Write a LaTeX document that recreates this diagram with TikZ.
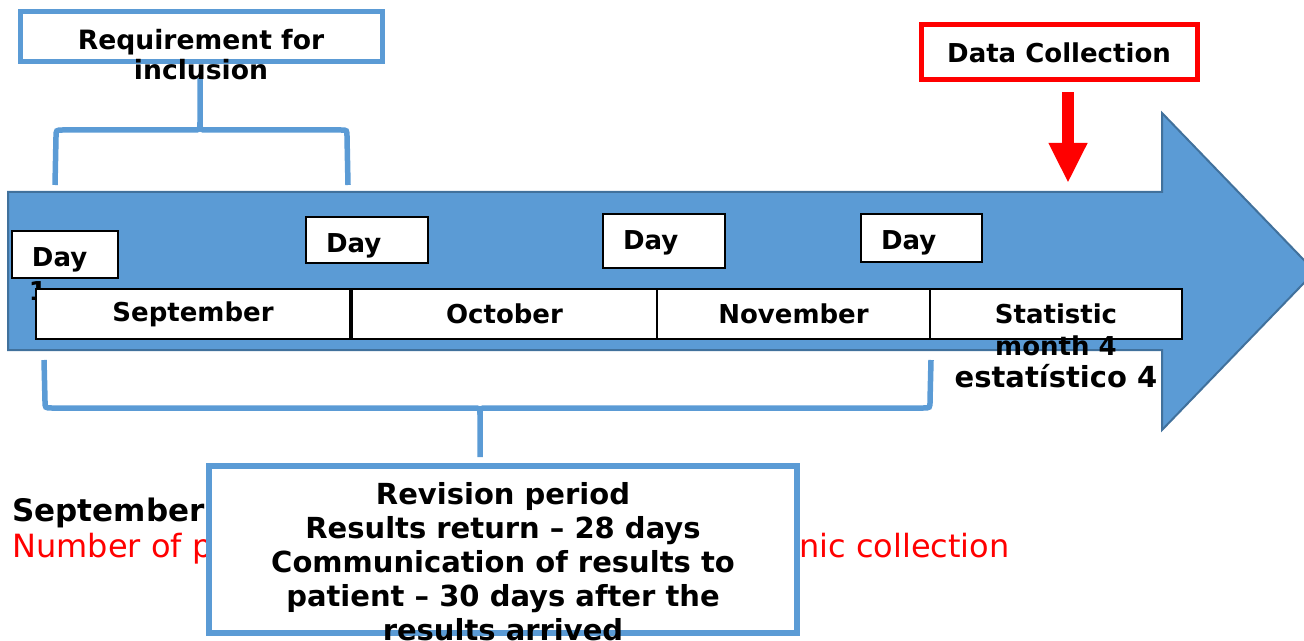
\documentclass[tikz,border=0pt]{standalone}
\usepackage{fontspec}
\setmainfont{DejaVu Sans}
\usetikzlibrary{arrows.meta, positioning}
\definecolor{OfficeBlue}{HTML}{5B9BD5}
\definecolor{OfficeEdge}{HTML}{41719C}
\definecolor{AlertRed}{HTML}{FF0000}
\newcommand{\boldsize}{\fontsize{13}{15}\selectfont\bfseries}

\begin{document}
\begin{tikzpicture}[
    x=0.5pt, y=-0.5pt,
    bracket/.style={draw=OfficeBlue, line width=2.75pt},
    daybox/.style={draw, fill=white, line width=1pt, inner xsep=10pt, inner ysep=0pt, align=left, text width=#1, text height=17.75pt, font=\boldsize},
    monthbox/.style={draw, fill=white, line width=1pt, inner sep=0pt, outer sep=0pt, minimum height=25pt, font=\boldsize},
    callout/.style={rectangle, fill=white, inner sep=0pt, line width=2.5pt},
    labeltext/.style={align=center, inner sep=0pt, font=\boldsize}
]
\useasboundingbox (0,0) rectangle (1304,641);

% timeline arrow
\draw[fill=OfficeBlue, draw=OfficeEdge, line width=1pt]
  (8,192) -- (1162,192) -- (1162,113) -- (1315,271.5) -- (1162,430) -- (1162,350) -- (8,350) -- cycle;

% top bracket
\coordinate (topstem) at (200,78);
\draw[bracket] (55,185) -- (56,137) .. controls (56,130) .. (63,130) -- (193,130)
  .. controls (200,130) .. (200,122) -- (topstem);
\draw[bracket] (200,122) .. controls (200,130) .. (207,130) -- (341,130)
  .. controls (347,130) .. (347,137) -- (348,185);

% bottom bracket
\coordinate (botstem) at (480,457);
\draw[bracket] (44,360) -- (45,401) .. controls (45,408) .. (52,408) -- (473,408)
  .. controls (480,408) .. (480,415) -- (botstem);
\draw[bracket] (480,415) .. controls (480,408) .. (487,408) -- (923,408)
  .. controls (930,408) .. (930,401) -- (931,360);

% days
\node[daybox=33pt, text depth=5.75pt] (day1) at (65,254.5) {Day};
\node[daybox=41pt, text depth=5.25pt] (day2) at (367,240) {Day};
\node[daybox=41pt, text depth=9.25pt] (day3) at (664,241) {Day};
\node[daybox=40.5pt, text depth=6.25pt] (day4) at (921.5,238) {Day};
\node[font=\boldsize, inner sep=0pt] (dayone) at (38,291) {1};

% months
\node[monthbox, minimum width=157pt] (sep) at (193,314) {September};
\node[monthbox, minimum width=152.5pt, right=1pt of sep] (oct) {October};
\node[monthbox, minimum width=136.5pt, right=0pt of oct] (nov) {November};
\node[monthbox, minimum width=126pt, right=0pt of nov] (stat) {};
\node[labeltext, font=\fontsize{13}{16}\selectfont\bfseries] (stattext) at (1056,346)
  {Statistic\\month 4\\{\fontsize{14.5}{16}\selectfont estatístico 4}};

% inclusion
\node[callout, draw=OfficeBlue, minimum width=181pt, minimum height=25pt] (req) at (201,37) {};
\node[labeltext, font=\fontsize{13.3}{15}\selectfont\bfseries] (reqtext) at ([yshift=-9pt]req.center) {Requirement for\\inclusion};

% data collection
\node[callout, draw=AlertRed, minimum width=138pt, minimum height=27.5pt, font=\boldsize] (dc) at (1059,52.5) {Data Collection};
\coordinate (dctip) at (1068,183);
\draw[AlertRed, line width=6pt, -{Triangle[length=20pt, width=18pt]}] (dctip |- dc.south) ++(0,10) -- (dctip);

% notes under the timeline
\node[anchor=base west, inner sep=0pt, font=\fontsize{15.5}{18}\selectfont\bfseries] (sepnote) at (12,521.5) {September};
\node[anchor=base west, inner sep=0pt, text=AlertRed, font=\fontsize{16}{18}\selectfont] (rednoteleft) at (12,557.5) {Number of p};
\node[anchor=base east, inner sep=0pt, text=AlertRed, font=\fontsize{16}{18}\selectfont] (rednoteright) at (1010,557.5) {nic collection};

% revision period
\node[callout, draw=OfficeBlue, line width=3pt, minimum width=294pt, minimum height=83.5pt] (rev) at (503,549.5) {};
\node[labeltext, font=\fontsize{14.5}{17}\selectfont\bfseries] (revtext) at (503,562)
  {Revision period\\Results return – 28 days\\Communication of results to\\patient – 30 days after the\\results arrived};

\end{tikzpicture}
\end{document}
